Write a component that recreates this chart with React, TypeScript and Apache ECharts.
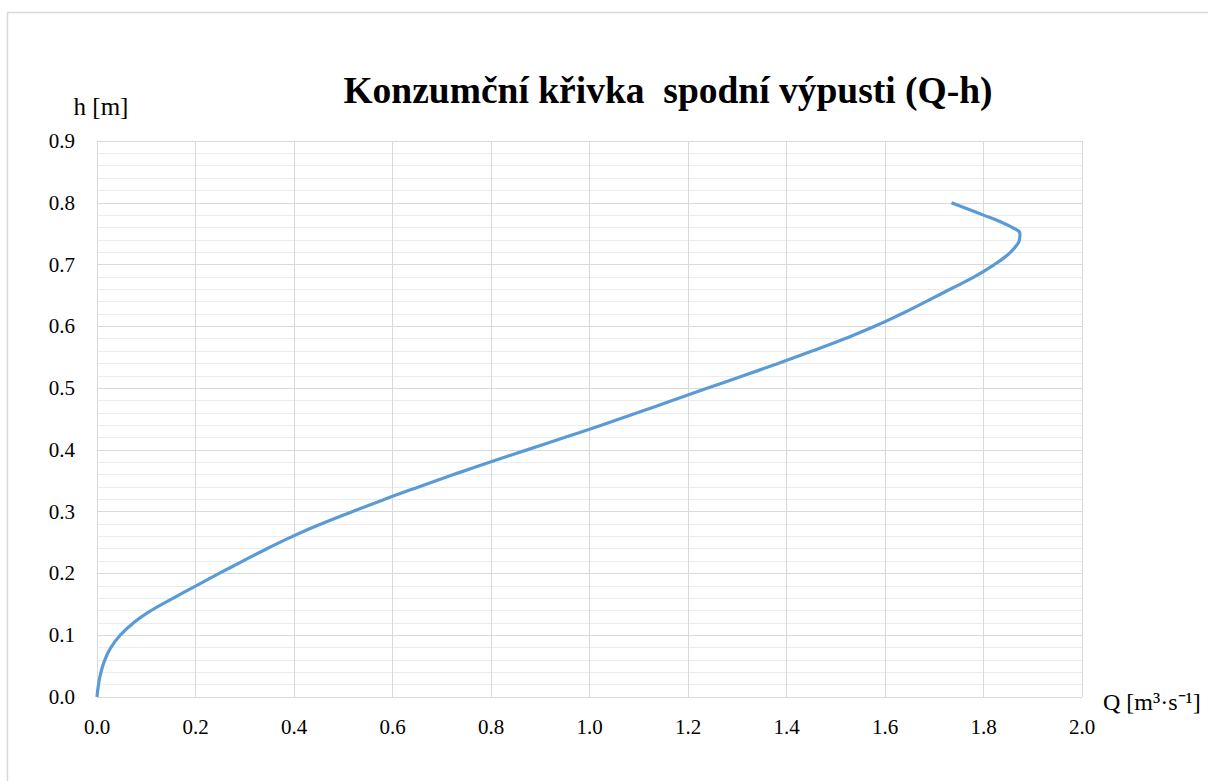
import React, { useEffect, useRef } from "react";
import * as echarts from "echarts";

const hValues = [
  0.0, 0.02, 0.04, 0.06, 0.08, 0.1, 0.12, 0.14, 0.16, 0.18, 0.2, 0.22, 0.24, 0.26, 0.28, 0.3,
  0.32, 0.34, 0.36, 0.38, 0.4, 0.42, 0.44, 0.46, 0.48, 0.5, 0.52, 0.54, 0.56, 0.58, 0.6, 0.62,
  0.64, 0.66, 0.68, 0.7, 0.71, 0.72, 0.73, 0.74, 0.75, 0.76, 0.77, 0.78, 0.79, 0.8,
];
const qValues = [
  0.0, 0.003, 0.008, 0.016, 0.028, 0.047, 0.074, 0.11, 0.155, 0.201, 0.248, 0.296, 0.345, 0.397,
  0.455, 0.518, 0.584, 0.653, 0.724, 0.797, 0.873, 0.949, 1.024, 1.097, 1.168, 1.24, 1.312, 1.383,
  1.452, 1.518, 1.579, 1.633, 1.683, 1.732, 1.781, 1.822, 1.84, 1.855, 1.866, 1.873, 1.874,
  1.858, 1.832, 1.8, 1.768, 1.735,
];
const xTicks = [0, 0.2, 0.4, 0.6, 0.8, 1.0, 1.2, 1.4, 1.6, 1.8, 2.0];
const yTicks = [0, 0.1, 0.2, 0.3, 0.4, 0.5, 0.6, 0.7, 0.8, 0.9];

const titleText = "Konzumční křivka  spodní výpusti (Q-h)";
const xName = "Q [m³·s⁻¹]";
const yName = "h [m]";

const FONT = "Liberation Serif";

export default function App() {
  const ref = useRef<HTMLDivElement>(null);
  useEffect(() => {
    if (!ref.current) return;
    const chart = echarts.init(ref.current, null, { renderer: "svg" });
    const data = hValues.map((h, i) => [qValues[i], h]);
    chart.setOption({
      animation: false,
      backgroundColor: "#ffffff",
      textStyle: { fontFamily: FONT },
      title: {
        text: titleText,
        left: 663,
        top: 66,
        textAlign: "center",
        textStyle: { fontFamily: FONT, fontWeight: "bold", fontSize: 37.5, color: "#000" },
      },
      grid: { left: 97, right: 126, top: 141, bottom: 84, containLabel: false },
      xAxis: {
        type: "value",
        min: xTicks[0],
        max: xTicks[xTicks.length - 1],
        interval: 0.2,
        axisLine: { show: false },
        axisTick: { show: false },
        axisLabel: {
          fontFamily: FONT,
          fontSize: 21,
          color: "#000",
          margin: 19,
          formatter: (v: number) => v.toFixed(1),
        },
        splitLine: { show: true, lineStyle: { color: "#d9d9d9", width: 1 } },
      },
      yAxis: {
        type: "value",
        min: yTicks[0],
        max: yTicks[yTicks.length - 1],
        interval: 0.1,
        axisLine: { show: false },
        axisTick: { show: false },
        axisLabel: {
          fontFamily: FONT,
          fontSize: 21,
          color: "#000",
          margin: 22,
          formatter: (v: number) => v.toFixed(1),
        },
        splitLine: { show: true, lineStyle: { color: "#d9d9d9", width: 1 } },
        minorTick: { show: false, splitNumber: 5 },
        minorSplitLine: { show: true, lineStyle: { color: "#ececec", width: 1 } },
      },
      graphic: [
        {
          type: "rect",
          shape: { x: 7.5, y: 12.5, width: 1220, height: 800 },
          style: { fill: "none", stroke: "#d9d9d9", lineWidth: 1.5 },
          silent: true,
        },
        {
          type: "text",
          x: 101,
          y: 106,
          style: {
            text: yName,
            fontFamily: FONT,
            fontSize: 25,
            fill: "#000",
            align: "center",
            verticalAlign: "middle",
          },
        },
        {
          type: "text",
          x: 1103,
          y: 702,
          style: {
            text: xName,
            fontFamily: FONT,
            fontSize: 24,
            fill: "#000",
            align: "left",
            verticalAlign: "middle",
          },
        },
      ],
      series: [
        {
          type: "line",
          data,
          smooth: 0.5,
          showSymbol: false,
          symbol: "none",
          lineStyle: { color: "#5b9bd5", width: 3.2 },
        },
      ],
    });
    return () => chart.dispose();
  }, []);
  return (
    <div
      ref={ref}
      style={{ position: "absolute", left: 0, top: 0, width: 1208, height: 781 }}
    />
  );
}
